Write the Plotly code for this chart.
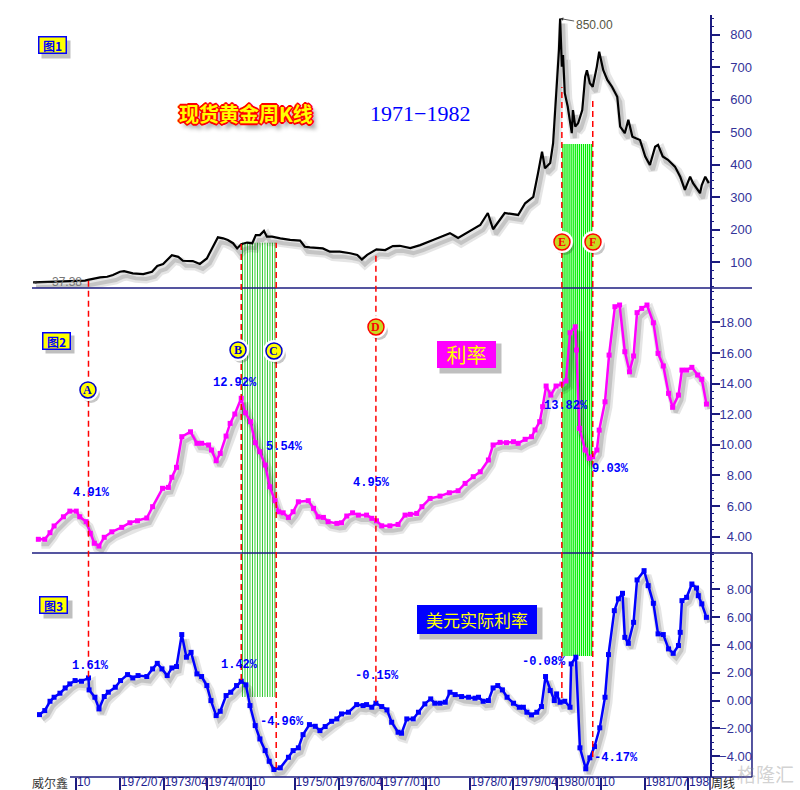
import plotly.graph_objects as go

# ---------------- data ----------------
gold_year = [1971.01,1971.30,1971.64,1971.90,1971.95,1972.16,1972.28,1972.38,1972.50,1972.57,1972.72,1972.90,
 1973.05,1973.14,1973.24,1973.39,1973.50,1973.58,1973.75,1973.87,1973.99,1974.10,1974.18,1974.27,1974.35,1974.44,
 1974.51,1974.58,1974.68,1974.77,1974.83,1974.90,1974.97,1975.02,1975.11,1975.25,1975.42,1975.59,1975.67,1975.76,
 1975.98,1976.10,1976.27,1976.45,1976.57,1976.65,1976.74,1976.90,1977.05,1977.18,1977.30,1977.48,1977.65,1977.87,
 1978.16,1978.30,1978.50,1978.68,1978.81,1978.90,1979.10,1979.33,1979.45,1979.59,1979.67,1979.74,1979.79,1979.88,
 1979.93,1980.00,1980.03,1980.05,1980.08,1980.10,1980.13,1980.18,1980.25,1980.27,1980.31,1980.36,1980.43,1980.48,
 1980.51,1980.56,1980.61,1980.68,1980.72,1980.79,1980.86,1980.94,1981.03,1981.08,1981.16,1981.22,1981.29,1981.42,
 1981.51,1981.59,1981.68,1981.73,1981.81,1981.90,1982.02,1982.11,1982.19,1982.28,1982.33,1982.45,1982.48,1982.54,1982.60]
gold_price = [37.38,39,40,43,45,52.8,54.7,60,70,72,65,63,
 70,88,94,121,116,104,103,94,111,147,176,173,168,158,
 142,155,160,158,183,183,196,178,178,173,168,166,147,145,
 142,132,132,127,122,108,122,139,137,149,150,143,152,168,
 189,174,196,214,251,201,251,245,281,301,373,440,389,405,
 466,652,753,850,702,738,620,579,497,568,517,528,568,671,
 691,651,640,702,748,691,661,640,609,517,497,538,486,476,
 425,399,455,461,425,415,394,363,322,363,343,312,337,363,343]

rate_year = [1971.10,1971.21,1971.30,1971.37,1971.53,1971.64,1971.75,1971.81,1971.92,1971.99,1972.06,1972.14,
 1972.23,1972.36,1972.53,1972.67,1972.80,1972.96,1973.06,1973.23,1973.33,1973.39,1973.47,1973.56,1973.71,1973.82,
 1973.90,1974.02,1974.07,1974.15,1974.22,1974.32,1974.39,1974.47,1974.58,1974.65,1974.74,1974.82,1974.90,1974.99,
 1975.07,1975.16,1975.22,1975.30,1975.39,1975.47,1975.56,1975.73,1975.82,1975.90,1975.99,1976.07,1976.22,1976.30,
 1976.39,1976.49,1976.59,1976.73,1976.82,1976.90,1976.99,1977.13,1977.27,1977.39,1977.48,1977.59,1977.68,1977.82,
 1977.99,1978.15,1978.30,1978.42,1978.56,1978.68,1978.82,1978.90,1979.02,1979.13,1979.25,1979.33,1979.45,1979.56,
 1979.62,1979.70,1979.75,1979.81,1979.89,1979.98,1980.08,1980.15,1980.22,1980.31,1980.33,1980.38,1980.48,1980.55,
 1980.61,1980.68,1980.72,1980.82,1980.89,1980.99,1981.07,1981.16,1981.24,1981.31,1981.37,1981.45,1981.54,1981.65,
 1981.73,1981.82,1981.91,1981.98,1982.08,1982.14,1982.22,1982.31,1982.41,1982.48,1982.56]
rate_value = [3.83,3.83,4.26,4.70,5.30,5.67,5.67,5.30,4.98,4.22,3.57,3.39,
 3.96,4.32,4.61,4.91,5.04,5.22,5.96,7.16,7.22,7.88,8.53,10.53,10.85,10.10,
 10.10,9.99,9.66,8.96,9.44,10.57,11.40,12.01,13.04,12.09,11.51,10.14,9.55,8.68,
 7.26,6.35,5.63,5.56,5.26,5.63,6.28,6.35,5.85,5.30,5.26,4.98,4.87,4.91,
 5.35,5.56,5.41,5.41,5.20,5.04,4.71,4.71,4.80,5.41,5.46,5.52,5.96,6.50,
 6.65,6.87,7.00,7.48,7.92,8.24,9.01,9.99,10.16,10.14,10.20,10.10,10.36,10.53,
 10.97,11.51,12.49,13.84,13.25,13.84,13.97,14.17,17.32,17.71,16.19,11.08,9.66,9.12,
 9.22,9.66,10.96,12.81,15.86,19.02,19.13,16.08,14.77,15.80,18.63,18.91,19.13,17.97,
 15.97,15.15,13.36,12.45,13.25,14.88,14.88,15.06,14.56,14.28,12.66]

real_year = [1971.12,1971.21,1971.30,1971.37,1971.47,1971.56,1971.64,1971.73,1971.84,1971.96,1971.97,1972.07,
 1972.14,1972.23,1972.30,1972.42,1972.51,1972.63,1972.72,1972.81,1972.96,1973.06,1973.14,1973.22,1973.31,1973.39,
 1973.47,1973.56,1973.64,1973.72,1973.82,1973.90,1973.99,1974.06,1974.15,1974.22,1974.32,1974.40,1974.50,1974.58,
 1974.66,1974.73,1974.82,1974.90,1974.99,1975.06,1975.14,1975.25,1975.39,1975.47,1975.56,1975.64,1975.75,1975.85,
 1975.93,1976.02,1976.13,1976.22,1976.30,1976.42,1976.56,1976.67,1976.73,1976.82,1976.89,1976.99,1977.08,1977.16,
 1977.27,1977.33,1977.42,1977.53,1977.62,1977.73,1977.83,1977.90,1977.99,1978.08,1978.16,1978.25,1978.36,1978.48,
 1978.59,1978.65,1978.73,1978.82,1978.90,1978.98,1979.06,1979.14,1979.25,1979.35,1979.42,1979.48,1979.56,1979.65,
 1979.73,1979.80,1979.88,1979.95,1979.99,1980.05,1980.13,1980.22,1980.24,1980.32,1980.39,1980.49,1980.56,1980.64,
 1980.73,1980.82,1980.88,1980.98,1981.05,1981.12,1981.16,1981.22,1981.31,1981.37,1981.49,1981.56,1981.65,1981.73,
 1981.82,1981.91,1981.99,1982.08,1982.11,1982.14,1982.22,1982.31,1982.39,1982.42,1982.48,1982.56]
real_value = [-1.01,-0.72,-0.05,0.24,0.53,0.91,1.20,1.44,1.39,1.63,0.77,0.24,
 -0.60,0.29,0.60,0.96,1.44,1.87,1.63,1.80,1.73,2.28,2.68,2.28,1.80,2.35,
 2.45,4.75,3.12,3.47,1.92,1.73,1.08,0.00,-1.08,-0.77,0.36,0.60,1.08,1.39,
 1.13,-0.36,-1.80,-2.76,-3.60,-4.37,-4.96,-4.84,-4.08,-3.60,-3.40,-2.45,-1.73,-1.85,
 -2.16,-1.87,-1.49,-1.32,-0.96,-0.84,-0.29,-0.36,-0.29,-0.48,-0.19,-0.43,-0.67,-1.56,
 -2.28,-2.35,-1.32,-1.32,-0.84,-0.24,0.12,-0.19,-0.19,-0.12,0.60,0.43,0.29,0.24,
 0.17,0.24,-0.05,0.00,0.91,1.08,0.77,0.24,-0.19,-0.48,-0.48,-0.84,-1.03,-0.84,
 -0.43,1.73,0.72,0.00,0.48,-0.12,-0.05,-0.48,2.64,3.12,-3.40,-4.91,-4.12,-3.31,
 -1.96,0.24,3.31,6.47,7.32,7.72,4.55,4.12,5.63,8.68,9.35,8.27,7.00,4.80,
 4.75,3.72,3.40,3.96,4.91,7.19,7.43,8.39,8.10,7.55,6.96,5.99]

# x-axis tick labels
tick_year = [1971.75,1972.5,1973.25,1974.0,1974.75,1975.5,1976.25,1977.0,1977.75,1978.5,1979.25,1980.0,1980.75,1981.5,1982.25]
tick_text = ["10","1972/07","1973/04","1974/01","10","1975/07","1976/04","1977/01","10","1978/07","1979/04","1980/01","10","1981/07","198"]

gold_ticks = [100,200,300,400,500,600,700,800]
rate_ticks = [4,6,8,10,12,14,16,18]
real_ticks = [-4,-2,0,2,4,6,8]

# marked events
event_name = ["A","B","C","D","E","F"]
event_year = [1971.96,1974.58,1975.18,1976.89,1980.08,1980.61]
event_top = [0.6553,0.7025,0.7012,0.6881,0.9055,0.8885]
event_bot = [0.1316,0.1273,0.0118,0.0988,0.1037,0.0262]
event_circle_x = [0.0769,0.2830,0.3324,0.4725,0.7280,0.7706]
event_circle_y = [0.5079,0.5604,0.5591,0.5906,0.7021,0.7021]
event_style = ["blue","blue","blue","red","red","red"]

pct_text = ["4.91%","12.92%","5.54%","4.95%","13.82%","9.03%","1.61%","1.42%","-4.96%","-0.15%","-0.08%","-4.17%"]
pct_x = [0.0824,0.2788,0.3475,0.4670,0.7335,0.7953,0.0797,0.2857,0.3434,0.4739,0.7033,0.8022]
pct_y = [0.3727,0.5171,0.4331,0.3858,0.4869,0.4042,0.1457,0.1470,0.0722,0.1325,0.1509,0.0249]

# ---------------- layout constants ----------------
W, H = 800, 790
ML, MR, MT, MB = 32, 40, 15, 13
PW = W - ML - MR
XEND = 678 / PW           # end of the chart area (right axis)
XRANGE = [1970.991, 1982.621]
D1 = [0.6417, 1.0]
D2 = [0.29396, 0.6417]
D3 = [0.0, 0.29396]
R1 = [19.9, 861]
R2 = [2.935, 20.24]
R3 = [-5.5, 10.62]
NAVY = "#1c1c80"
TICKC = "#333399"

fig = go.Figure()

# shadows (same data, shifted a few pixels down-right)
dx = 3 * (XRANGE[1] - XRANGE[0]) / 678
def sh(vals, rng, dom):
    px_per = (dom[1] - dom[0]) * (H - MT - MB) / (rng[1] - rng[0])
    return [v - 5 / px_per for v in vals]

for xs, ys, rng, dom, ya in [(gold_year, gold_price, R1, D1, "y"), (rate_year, rate_value, R2, D2, "y2"),
                             (real_year, real_value, R3, D3, "y3")]:
    fig.add_trace(go.Scatter(x=[t + dx for t in xs], y=sh(ys, rng, dom), mode="lines",
                             line=dict(color="rgba(0,0,0,0.10)", width=9), xaxis="x", yaxis=ya, hoverinfo="skip"))
    fig.add_trace(go.Scatter(x=[t + dx for t in xs], y=sh(ys, rng, dom), mode="lines",
                             line=dict(color="rgba(0,0,0,0.14)", width=4), xaxis="x", yaxis=ya, hoverinfo="skip"))

# main series
fig.add_trace(go.Scatter(x=gold_year, y=gold_price, mode="lines", line=dict(color="#000000", width=2.2),
                         xaxis="x", yaxis="y", name="现货黄金"))
fig.add_trace(go.Scatter(x=rate_year, y=rate_value, mode="lines+markers", line=dict(color="#FF00FF", width=2.5),
                         marker=dict(symbol="square", size=5, color="#FF00FF"),
                         xaxis="x", yaxis="y2", name="利率"))
fig.add_trace(go.Scatter(x=real_year, y=real_value, mode="lines+markers", line=dict(color="#0000FF", width=2.5),
                         marker=dict(symbol="square", size=5, color="#0000FF"),
                         xaxis="x", yaxis="y3", name="美元实际利率"))

shapes = []
def stripes(xa, xb, y0, y1, n, color, w):
    for i in range(n):
        xx = xa + (xb - xa) * (i + 0.5) / n
        shapes.append(dict(type="line", xref="x", yref="paper", x0=xx, x1=xx, y0=y0, y1=y1,
                           line=dict(color=color, width=w), layer="below"))
stripes(event_year[1], event_year[2], 0.105, 0.7012, 14, "#33CC33", 1)
stripes(event_year[4], event_year[5], 0.1588, 0.8307, 15, "#00EE00", 1.3)

line = dict(color=NAVY, width=1.5)
shapes += [
    dict(type="line", xref="paper", yref="paper", x0=0, x1=0.989, y0=D1[0], y1=D1[0], line=line),
    dict(type="line", xref="paper", yref="paper", x0=0, x1=0.989, y0=D2[0], y1=D2[0], line=line),
    dict(type="line", xref="paper", yref="paper", x0=0.0522, x1=0.989, y0=0, y1=0, line=line),
    dict(type="line", xref="paper", yref="paper", x0=0.989, x1=0.989, y0=0, y1=D3[1], line=line),
    dict(type="line", xref="paper", yref="paper", x0=XEND, x1=XEND, y0=-0.02, y1=0, line=line),
]
for i in range(len(event_name)):
    shapes.append(dict(type="line", xref="x", yref="paper", x0=event_year[i], x1=event_year[i],
                       y0=event_bot[i], y1=event_top[i], line=dict(color="#FF0000", width=1.5, dash="6px,4px")))
for i in range(len(event_name)):
    cx, cy = event_circle_x[i], event_circle_y[i]
    base = dict(type="circle", xref="paper", yref="paper", xsizemode="pixel", ysizemode="pixel",
                xanchor=cx, yanchor=cy)
    shapes.append(dict(base, x0=-6, x1=12, y0=-13, y1=5, fillcolor="rgba(0,0,0,0.22)", line=dict(width=0)))
    shapes.append(dict(base, x0=-11, x1=11, y0=-11, y1=11, fillcolor="white", line=dict(width=0)))
    if event_style[i] == "blue":
        shapes.append(dict(base, x0=-8, x1=8, y0=-8, y1=8, fillcolor="#FFFF00", line=dict(color="#0000CC", width=1.5)))
    else:
        shapes.append(dict(base, x0=-8, x1=8, y0=-8, y1=8, fillcolor="#C8D820", line=dict(color="#FF0000", width=1.5)))

anns = []
def A(**kw):
    d = dict(xref="paper", yref="paper", showarrow=False, xanchor="center", yanchor="middle")
    d.update(kw)
    anns.append(d)

for i in range(len(event_name)):
    col = "#0000CC" if event_style[i] == "blue" else "#FF0000"
    A(x=event_circle_x[i], y=event_circle_y[i], text="<b>%s</b>" % event_name[i],
      font=dict(family="Liberation Serif", size=12, color=col))

for t, x, y in zip(pct_text, pct_x, pct_y):
    A(x=x, y=y, text="<b>%s</b>" % t, font=dict(family="Liberation Mono", size=12, color="#0000FF"))

def boxed(text, x, y, w, h, bg, border, fcolor, size, bw=1.5):
    A(x=x, y=y, xshift=4, yshift=-4, text=text, width=w, height=h, bgcolor="rgba(0,0,0,0.25)",
      font=dict(color="rgba(0,0,0,0)", size=size, family="Noto Sans CJK SC"))
    A(x=x, y=y, text=text, width=w, height=h, bgcolor=bg, bordercolor=border, borderwidth=bw, borderpad=0,
      font=dict(color=fcolor, size=size, family="Noto Sans CJK SC"))

boxed("<b>图1</b>", 0.0275, 0.9606, 26, 15, "#FFFF00", "#0000FF", "#0000FF", 12)
boxed("<b>图2</b>", 0.0330, 0.5722, 26, 15, "#FFFF00", "#0000FF", "#0000FF", 12)
boxed("<b>图3</b>", 0.0302, 0.2257, 26, 15, "#FFFF00", "#0000FF", "#0000FF", 12)
boxed("利率", 0.5962, 0.5551, 59, 27, "#FF00FF", "#FF00FF", "#FFFF00", 20, bw=0)
boxed("美元实际利率", 0.6113, 0.2073, 120, 29, "#0000FF", "#0000FF", "#FFFF00", 17, bw=0)

A(x=0.2940, y=0.8701, text="<b>现货黄金周K线</b>",
  font=dict(family="Noto Sans CJK SC", size=20, color="#FFFF00",
            shadow="-1px -1px 0 #FF0000, 1px -1px 0 #FF0000, -1px 1px 0 #FF0000, 1px 1px 0 #FF0000, 2px 0 0 #FF0000, -2px 0 0 #FF0000, 0 2px 0 #FF0000, 0 -2px 0 #FF0000, 4px 5px 4px #888888"))
A(x=0.5330, y=0.8701, text="1971−1982", font=dict(family="Liberation Serif", size=22, color="#0000FF"))

# extreme value call-outs
ipk = gold_price.index(max(gold_price))
anns.append(dict(xref="x", yref="y", x=gold_year[ipk], y=gold_price[ipk], text="%.2f" % gold_price[ipk],
                 showarrow=True, arrowhead=2, arrowsize=0.8, arrowwidth=0.8, arrowcolor="#333333", ax=34, ay=6,
                 font=dict(family="Liberation Sans", size=12, color="#555544")))
anns.append(dict(xref="x", yref="y", x=gold_year[0], y=gold_price[0], text="%.2f" % gold_price[0],
                 showarrow=True, arrowhead=2, arrowsize=0.8, arrowwidth=0.8, arrowcolor="#333333", ax=34, ay=0,
                 font=dict(family="Liberation Sans", size=12, color="#777777")))

A(x=0.0247, y=-0.0075, text="威尔鑫", font=dict(family="Noto Sans CJK SC", size=12, color="#333333"))
A(x=0.949, y=-0.0075, text="周线", font=dict(family="Noto Sans CJK SC", size=12, color="#222222"))
A(x=1.008, y=0.004, text="格隆汇", font=dict(family="Noto Sans CJK SC", size=19, color="rgba(140,140,140,0.4)"))

def yax(dom, rng, ticks, minor_dt):
    return dict(domain=dom, range=rng, anchor="x", side="right", showgrid=False, zeroline=False,
                showline=True, linecolor=NAVY, linewidth=1.5, ticks="outside", ticklen=8, tickwidth=1.5,
                tickcolor=NAVY, tickvals=ticks, showticklabels=False, fixedrange=True, automargin=False,
                minor=dict(ticks="outside", ticklen=2, tickcolor=NAVY, dtick=minor_dt, tickwidth=1))

def ylab(over, rng, ticks, fmt):
    return dict(overlaying=over, range=rng, anchor="free", position=0.989, side="left", showgrid=False,
                zeroline=False, showline=False, ticks="", tickvals=ticks, tickformat=fmt, automargin=False,
                tickfont=dict(family="Liberation Sans", size=13, color=TICKC), fixedrange=True)

fig.update_layout(
    width=W, height=H, margin=dict(l=ML, r=MR, t=MT, b=MB, autoexpand=False),
    paper_bgcolor="white", plot_bgcolor="rgba(0,0,0,0)", showlegend=False,
    xaxis=dict(domain=[0, XEND], range=XRANGE, anchor="y3", showgrid=False, zeroline=False, showline=False,
               ticks="outside", ticklen=14, tickwidth=1.5, tickcolor=NAVY, tickvals=tick_year, ticktext=tick_text,
               ticklabelposition="outside right", ticklabelstandoff=-6, tickangle=0, automargin=False,
               tickfont=dict(family="Liberation Sans", size=12, color="#1c1c90"), fixedrange=True),
    yaxis=yax(D1, R1, gold_ticks, 25),
    yaxis2=yax(D2, R2, rate_ticks, 0.5),
    yaxis3=yax(D3, R3, real_ticks, 0.5),
    yaxis4=ylab("y", R1, gold_ticks, "d"),
    yaxis5=ylab("y2", R2, rate_ticks, ".2f"),
    yaxis6=ylab("y3", R3, real_ticks, ".2f"),
    shapes=shapes, annotations=anns,
)
for xs, ys, ya in [(gold_year, gold_price, "y4"), (rate_year, rate_value, "y5"), (real_year, real_value, "y6")]:
    fig.add_trace(go.Scatter(x=[xs[0]], y=[ys[0]], xaxis="x", yaxis=ya, mode="markers",
                             marker=dict(opacity=0), hoverinfo="skip"))

fig.write_html("out.html")
